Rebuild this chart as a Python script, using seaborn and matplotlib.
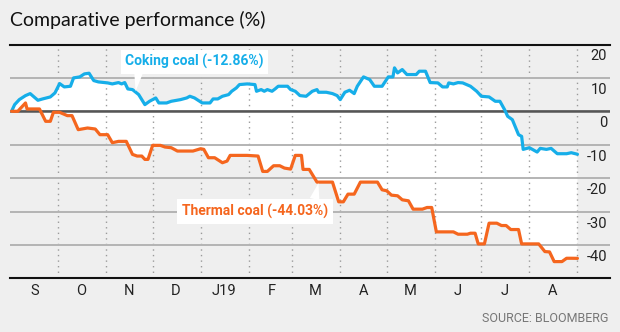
import numpy as np
import pandas as pd
import matplotlib
matplotlib.use("Agg")
import matplotlib.pyplot as plt
import matplotlib.dates as mdates
from matplotlib.transforms import ScaledTranslation
import seaborn as sns

# ---- data: day offsets from the start date and % change ----
START = "2018-09-01"

coking_days = [0, 2, 5, 9, 12, 14, 17, 20, 25, 28, 31, 34, 38, 40, 44, 47, 50, 53, 56, 62,
               65, 69, 71, 73, 75, 78, 82, 86, 89, 93, 95, 100, 103, 109, 113, 115, 118, 123, 128, 130,
               133, 136, 140, 142, 145, 147, 152, 157, 158, 161, 163, 165, 168, 170, 172, 178, 180, 183, 186, 190,
               194, 197, 198, 203, 207, 210, 212, 215, 218, 221, 223, 227, 231, 234, 239, 243, 246, 247, 249, 252,
               255, 261, 263, 267, 270, 275, 278, 281, 282, 285, 288, 291, 296, 300, 303, 308, 312, 315, 318, 320,
               323, 327, 329, 330, 334, 339, 341, 345, 348, 352, 358, 361, 365]
coking_pct = [0, 2, 3.5, 4.7, 5.3, 4.5, 3.3, 3.7, 4.3, 5.5, 8.3, 7.3, 7.5, 10, 10.3, 11.2, 11.4, 9.2, 8.8, 8.5,
              8.2, 8.6, 8.2, 8.6, 6.7, 6.5, 5, 2, 3, 4, 2.5, 2.5, 3, 3.5, 4, 4.5, 4, 2.5, 2.5, 3.7,
              3.7, 4.5, 5, 6, 7, 8, 8.2, 8, 6, 6.5, 6, 6.5, 6, 6.7, 7.5, 7.5, 6.5, 6, 4.7, 4.5,
              6, 6.5, 5.7, 5.7, 5.3, 4.7, 3.5, 5.7, 6.3, 5.3, 7.5, 10.3, 9.5, 7.5, 7.5, 10.3, 10.3, 13, 11.5, 12.5,
              11, 11, 12, 12, 8.6, 8.5, 7.3, 7.3, 8.5, 8.2, 8.6, 8.5, 7.5, 6, 4.5, 4.3, 3, 3, 0.5, -1.5,
              -2.5, -7, -7.5, -11.4, -10.9, -12.2, -11.1, -11.4, -11.1, -12.7, -12.7, -12.4, -12.86]

thermal_days = [0, 4, 7, 9, 10, 18, 22, 25, 27, 31, 36, 39, 43, 49, 54, 57, 62, 65, 69, 74,
                78, 81, 84, 86, 88, 91, 96, 99, 103, 107, 117, 122, 124, 127, 131, 136, 139, 141, 152, 159,
                162, 165, 169, 173, 176, 180, 183, 187, 188, 192, 197, 207, 211, 214, 217, 221, 225, 236, 239, 242,
                245, 249, 252, 256, 259, 265, 268, 271, 274, 285, 288, 294, 296, 299, 301, 305, 308, 313, 316, 319,
                322, 327, 329, 340, 344, 347, 350, 355, 358, 361, 365]
thermal_pct = [0, 0, 1.5, 2.5, 0.7, 0.7, -3, -3, -0.3, -0.3, -1.3, -1.3, -5.5, -5, -5.3, -7, -7, -9.4, -9, -9,
               -12.9, -13.4, -13.4, -14.4, -14.4, -10.2, -10.2, -10.7, -10.9, -11.9, -11.9, -11.2, -11.4, -13.9, -13.9, -15.4, -14.9, -13.2, -13.2, -13.4,
               -18, -18, -16.3, -16.3, -17, -17.3, -13.2, -13.2, -17.4, -17.4, -21.2, -21.2, -27.1, -27.1, -24.8, -24.8, -21.2, -21.2, -23.5, -23.8,
               -25.1, -25.3, -26.5, -26.8, -29.3, -29.3, -28.8, -28.8, -36.1, -36.1, -36.8, -36.8, -36.5, -36.5, -39.7, -39.7, -33.5, -33.5, -34.2, -34.2,
               -35.4, -35.4, -39.7, -39.7, -42, -42.1, -45, -45, -44, -44, -44.03]

y_ticks = [20, 10, 0, -10, -20, -30, -40]
month_labels = ["S", "O", "N", "D", "J19", "F", "M", "A", "M", "J", "J", "A"]
coking_label = "Coking coal (-12.86%)"
thermal_label = "Thermal coal (-44.03%)"

# ---- style ----
BG = "#efefef"
BLUE = "#16aee9"
ORANGE = "#f5661e"
GRID = "#b4b4b4"

sns.set_theme(style="white")
plt.rcParams["font.family"] = ["Roboto", "DejaVu Sans"]

fig = plt.figure(figsize=(6.2, 3.32), dpi=100, facecolor=BG)
ax = fig.add_axes([10 / 620, 1 - 278.3 / 332, 600 / 620, (278.3 - 44.5) / 332])
ax.set_facecolor(BG)

base = pd.Timestamp(START)
coking = pd.DataFrame({"date": base + pd.to_timedelta(coking_days, unit="D"), "pct": coking_pct})
thermal = pd.DataFrame({"date": base + pd.to_timedelta(thermal_days, unit="D"), "pct": thermal_pct})

sns.lineplot(data=coking, x="date", y="pct", ax=ax, color=BLUE, lw=2.3, zorder=3)
sns.lineplot(data=thermal, x="date", y="pct", ax=ax, color=ORANGE, lw=2.3, zorder=3)

# white band between the two series
cx = mdates.date2num(coking["date"])
tx = mdates.date2num(thermal["date"])
ax.fill(np.concatenate([cx, tx[::-1]]),
        np.concatenate([coking["pct"].values, thermal["pct"].values[::-1]]),
        color="white", lw=0, zorder=0.2)

# axes limits
ax.set_xlim(base - pd.Timedelta(days=1), base + pd.Timedelta(days=386))
ax.set_ylim(-50, 20)

# month boundaries (dotted) and mid-month labels
month_starts = pd.date_range("2018-10-01", periods=12, freq="MS")
mid_months = pd.date_range(START, periods=12, freq="MS") + pd.Timedelta(days=15)
ax.set_xticks(month_starts)
ax.set_xticklabels([""] * len(month_starts))
ax.set_xticks(mid_months, minor=True)
ax.set_xticklabels(month_labels, minor=True)
ax.xaxis.grid(True, which="major", color="#9a9a9a", lw=1.0, ls=(0, (1, 3)))

# horizontal grid
ax.set_yticks(y_ticks)
ax.set_yticklabels([str(v) for v in y_ticks])
ax.yaxis.grid(True, color=GRID, lw=1.4)
ax.axhline(0, color="#555555", lw=1.8, zorder=0.6)
ax.set_axisbelow(True)

ax.yaxis.tick_right()
ax.tick_params(axis="y", length=0, pad=-2, labelsize=10.5, labelcolor="#222222")
ax.tick_params(axis="x", which="both", length=0, labelsize=10.5, labelcolor="#222222")
ax.tick_params(axis="x", which="minor", pad=4)
offset = ScaledTranslation(0, -10.5 / 100, fig.dpi_scale_trans)
for lbl in ax.get_yticklabels():
    lbl.set_horizontalalignment("right")
    lbl.set_transform(lbl.get_transform() + offset)

ax.set_xlabel("")
ax.set_ylabel("")
for side in ["left", "right"]:
    ax.spines[side].set_visible(False)
for side in ["top", "bottom"]:
    ax.spines[side].set_visible(True)
    ax.spines[side].set_color("#111111")
    ax.spines[side].set_linewidth(1.5)

# series labels
ax.annotate(coking_label,
            xy=(base + pd.Timedelta(days=80), 6.0),
            xytext=(base + pd.Timedelta(days=118), 14.8),
            ha="center", va="center", fontsize=10, fontweight="bold", color=BLUE,
            bbox=dict(boxstyle="square,pad=0.3", fc="white", ec="none"),
            arrowprops=dict(arrowstyle="wedge,tail_width=0.6", fc="white", ec="none",
                            shrinkA=0, shrinkB=0, relpos=(0.1, 0.0)),
            zorder=4)
ax.annotate(thermal_label,
            xy=(base + pd.Timedelta(days=198), -21.5),
            xytext=(base + pd.Timedelta(days=157), -30.0),
            ha="center", va="center", fontsize=10, fontweight="bold", color=ORANGE,
            bbox=dict(boxstyle="square,pad=0.35", fc="white", ec="none"),
            arrowprops=dict(arrowstyle="wedge,tail_width=0.7", fc="white", ec="none",
                            shrinkA=0, shrinkB=0, relpos=(0.9, 1.0)),
            zorder=4)

# title and source
fig.text(10 / 620, 1 - 20 / 332, "Comparative performance (%)", ha="left", va="center",
         fontsize=14, color="#111111", family=["Lato", "DejaVu Sans"])
fig.text(608 / 620, 1 - 318 / 332, "SOURCE: BLOOMBERG", ha="right", va="center",
         fontsize=9, color="#777777")

fig.savefig("out.png", dpi=100, facecolor=BG)
